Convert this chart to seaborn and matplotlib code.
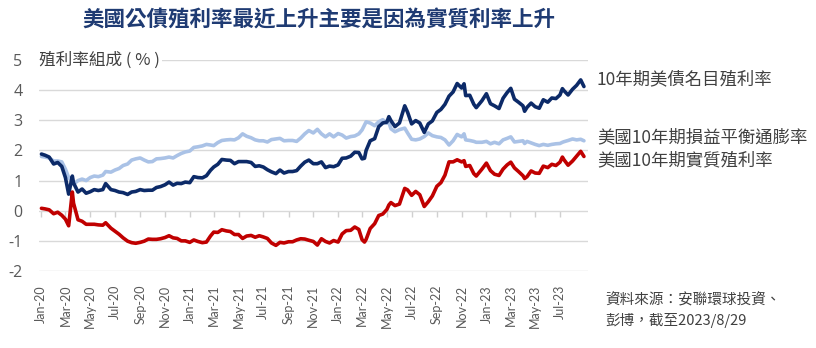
import pandas as pd
import numpy as np
import matplotlib
matplotlib.use("Agg")
import matplotlib.pyplot as plt
import matplotlib.dates as mdates
import seaborn as sns

# 10-year US Treasury yield decomposition, %
dates = [
    "2020-01-02", "2020-01-11", "2020-01-21", "2020-02-01", "2020-02-11", "2020-02-21",
    "2020-03-01", "2020-03-09", "2020-03-18", "2020-03-21", "2020-04-01", "2020-04-11",
    "2020-04-21", "2020-05-01", "2020-05-11", "2020-05-21", "2020-06-01", "2020-06-08",
    "2020-06-21", "2020-07-01", "2020-07-11", "2020-07-21", "2020-08-01", "2020-08-11",
    "2020-08-21", "2020-09-01", "2020-09-11", "2020-09-21", "2020-10-01", "2020-10-11",
    "2020-10-21", "2020-11-01", "2020-11-11", "2020-11-21", "2020-12-01", "2020-12-11",
    "2020-12-21",
    "2021-01-01", "2021-01-11", "2021-01-21", "2021-02-01", "2021-02-11", "2021-02-21",
    "2021-03-01", "2021-03-11", "2021-03-21", "2021-04-01", "2021-04-11", "2021-04-21",
    "2021-05-01", "2021-05-11", "2021-05-21", "2021-06-01", "2021-06-11", "2021-06-21",
    "2021-07-01", "2021-07-11", "2021-07-21", "2021-08-01", "2021-08-11", "2021-08-21",
    "2021-09-01", "2021-09-11", "2021-09-21", "2021-10-01", "2021-10-11", "2021-10-21",
    "2021-11-01", "2021-11-11", "2021-11-21", "2021-12-01", "2021-12-11", "2021-12-21",
    "2022-01-01", "2022-01-11", "2022-01-21", "2022-02-01", "2022-02-11", "2022-02-21",
    "2022-03-01", "2022-03-07", "2022-03-11", "2022-03-21", "2022-04-01", "2022-04-11",
    "2022-04-21", "2022-05-01", "2022-05-06", "2022-05-11", "2022-05-21", "2022-06-01",
    "2022-06-14", "2022-06-21", "2022-07-01", "2022-07-11", "2022-07-21", "2022-08-01",
    "2022-08-11", "2022-08-21", "2022-09-01", "2022-09-11", "2022-09-21", "2022-10-01",
    "2022-10-11", "2022-10-21", "2022-11-01", "2022-11-07", "2022-11-11", "2022-11-21",
    "2022-12-01", "2022-12-07", "2022-12-21",
    "2023-01-01", "2023-01-11", "2023-01-21", "2023-02-01", "2023-02-11", "2023-02-21",
    "2023-03-02", "2023-03-11", "2023-03-21", "2023-04-01", "2023-04-05", "2023-04-11",
    "2023-04-21", "2023-05-01", "2023-05-11", "2023-05-21", "2023-06-01", "2023-06-11",
    "2023-06-21", "2023-07-01", "2023-07-07", "2023-07-11", "2023-07-21", "2023-08-01",
    "2023-08-11", "2023-08-21", "2023-08-29",
]

nominal = [
    1.88, 1.84, 1.78, 1.55, 1.60, 1.47,
    1.10, 0.55, 1.15, 0.92, 0.62, 0.72,
    0.58, 0.63, 0.70, 0.67, 0.70, 0.90,
    0.70, 0.67, 0.62, 0.60, 0.54, 0.62,
    0.64, 0.70, 0.67, 0.68, 0.68, 0.77,
    0.80, 0.86, 0.95, 0.85, 0.91, 0.90,
    0.95,
    0.93, 1.13, 1.10, 1.09, 1.16, 1.34,
    1.45, 1.54, 1.70, 1.68, 1.67, 1.56,
    1.63, 1.63, 1.63, 1.60, 1.47, 1.49,
    1.45, 1.36, 1.29, 1.23, 1.35, 1.25,
    1.30, 1.30, 1.33, 1.48, 1.61, 1.68,
    1.56, 1.56, 1.62, 1.43, 1.48, 1.46,
    1.52, 1.74, 1.75, 1.81, 1.94, 1.93,
    1.72, 1.74, 2.00, 2.32, 2.39, 2.79,
    2.91, 2.94, 3.12, 2.99, 2.79, 2.91,
    3.48, 3.27, 2.88, 2.99, 2.91, 2.60,
    2.88, 2.98, 3.26, 3.36, 3.53, 3.80,
    3.94, 4.22, 4.07, 4.21, 3.82, 3.83,
    3.53, 3.42, 3.65,
    3.88, 3.55, 3.48, 3.39, 3.73, 3.92,
    4.06, 3.70, 3.60, 3.48, 3.30, 3.43,
    3.57, 3.45, 3.40, 3.68, 3.60, 3.74,
    3.72, 3.84, 4.05, 3.98, 3.84, 4.03,
    4.16, 4.34, 4.12,
]

breakeven = [
    1.80, 1.78, 1.75, 1.65, 1.65, 1.62,
    1.38, 1.10, 0.95, 0.88, 1.00, 1.05,
    1.00, 1.10, 1.15, 1.13, 1.18, 1.30,
    1.28, 1.35, 1.40, 1.50, 1.55, 1.68,
    1.72, 1.75, 1.68, 1.62, 1.63, 1.72,
    1.73, 1.75, 1.78, 1.75, 1.83, 1.90,
    1.95,
    1.98, 2.10, 2.12, 2.15, 2.20, 2.18,
    2.16, 2.26, 2.33, 2.35, 2.36, 2.35,
    2.42, 2.55, 2.47, 2.42, 2.35, 2.32,
    2.32, 2.28, 2.36, 2.38, 2.40, 2.32,
    2.33, 2.33, 2.30, 2.41, 2.55, 2.66,
    2.58, 2.70, 2.55, 2.45, 2.55, 2.45,
    2.56, 2.51, 2.41, 2.46, 2.48, 2.55,
    2.68, 2.84, 2.95, 2.91, 2.82, 2.95,
    3.02, 2.90, 2.93, 2.72, 2.62, 2.69,
    2.74, 2.58, 2.37, 2.35, 2.38, 2.46,
    2.58, 2.49, 2.45, 2.43, 2.35, 2.18,
    2.32, 2.53, 2.45, 2.55, 2.35, 2.33,
    2.30, 2.27, 2.27,
    2.30, 2.22, 2.27, 2.22, 2.35, 2.40,
    2.45, 2.28, 2.30, 2.32, 2.23, 2.30,
    2.25, 2.20, 2.16, 2.20, 2.17, 2.20,
    2.22, 2.23, 2.27, 2.29, 2.33, 2.38,
    2.35, 2.37, 2.32,
]

real = [
    0.08, 0.06, 0.03, -0.10, -0.05, -0.15,
    -0.28, -0.50, 0.62, 0.25, -0.30, -0.35,
    -0.45, -0.45, -0.45, -0.47, -0.48, -0.40,
    -0.58, -0.68, -0.78, -0.90, -1.01, -1.06,
    -1.08, -1.05, -1.01, -0.94, -0.95, -0.95,
    -0.93, -0.89, -0.83, -0.90, -0.92, -1.00,
    -1.00,
    -1.05, -0.97, -1.02, -1.06, -1.04, -0.84,
    -0.71, -0.72, -0.63, -0.67, -0.69, -0.79,
    -0.79, -0.92, -0.84, -0.82, -0.88, -0.83,
    -0.87, -0.92, -1.07, -1.15, -1.05, -1.07,
    -1.03, -1.03, -0.97, -0.93, -0.94, -0.98,
    -1.02, -1.14, -0.93, -1.02, -1.07, -0.99,
    -1.04, -0.77, -0.66, -0.65, -0.54, -0.62,
    -0.96, -1.04, -0.95, -0.59, -0.43, -0.16,
    -0.11, 0.04, 0.19, 0.27, 0.17, 0.22,
    0.74, 0.69, 0.51, 0.64, 0.53, 0.14,
    0.30, 0.49, 0.81, 0.93, 1.18, 1.62,
    1.62, 1.69, 1.62, 1.66, 1.47, 1.50,
    1.23, 1.15, 1.38,
    1.58, 1.33, 1.21, 1.17, 1.38, 1.52,
    1.61, 1.42, 1.30, 1.16, 1.07, 1.13,
    1.32, 1.25, 1.24, 1.48, 1.43, 1.54,
    1.50, 1.61, 1.78, 1.69, 1.51, 1.65,
    1.81, 1.97, 1.80,
]

series_names = ["10年期美債名目殖利率", "美國10年期損益平衡通膨率", "美國10年期實質殖利率"]
series_colors = ["#0c2a68", "#aac2e6", "#c00000"]

# bi-monthly axis labels, Jan-20 through Jul-23
tick_dates = pd.date_range("2020-01-01", "2023-07-01", freq="2MS")

title_text = "美國公債殖利率最近上升主要是因為實質利率上升"
ylabel_text = "殖利率組成 ( % )"
source_lines = ["資料來源：安聯環球投資、", "彭博，截至2023/8/29"]

# ---- long-form table for seaborn ----
d = pd.to_datetime(dates)
df = pd.concat([
    pd.DataFrame({"date": d, "value": nominal, "series": series_names[0]}),
    pd.DataFrame({"date": d, "value": breakeven, "series": series_names[1]}),
    pd.DataFrame({"date": d, "value": real, "series": series_names[2]}),
], ignore_index=True)

sns.set_theme(style="white")
cjk = ["Noto Sans CJK TC", "DejaVu Sans"]
plt.rcParams["font.family"] = cjk
plt.rcParams["axes.unicode_minus"] = False

fig = plt.figure(figsize=(8.16, 3.48), dpi=100)
ax = fig.add_axes([39 / 816, 77 / 348, (588 - 39) / 816, (288 - 77) / 348])

# breakeven underneath, then nominal, then real on top
draw_order = [series_names[1], series_names[0], series_names[2]]
palette = dict(zip(series_names, series_colors))
for name in draw_order:
    sns.lineplot(data=df[df["series"] == name], x="date", y="value",
                 color=palette[name], linewidth=2.6, ax=ax, legend=False)

ax.set_ylim(-2, 5)
ax.set_xlim(pd.Timestamp("2019-12-27"), pd.Timestamp("2023-09-08"))
ax.set_yticks(range(-2, 6))
ax.yaxis.grid(True, color="#d9d9d9", linewidth=1)
ax.xaxis.grid(False)
for s in ax.spines.values():
    s.set_visible(False)
ax.set_xlabel("")
ax.set_ylabel("")

# y tick labels
ax.tick_params(axis="y", length=0, pad=12, labelsize=11.5, labelcolor="#595959")
for lab in ax.get_yticklabels():
    lab.set_family(["Open Sans", "DejaVu Sans"])

# date labels along the bottom
ax.set_xticks(tick_dates)
ax.xaxis.set_major_formatter(mdates.DateFormatter("%b-%y"))
ax.tick_params(axis="x", length=0, pad=10, labelsize=9, labelcolor="#595959",
               rotation=90)
for lab in ax.get_xticklabels():
    lab.set_family(["Lato", "DejaVu Sans"])

# small tick marks on the zero line
zero_axis = ax.secondary_xaxis(2 / 7)
zero_axis.set_xticks(tick_dates)
zero_axis.tick_params(axis="x", length=4, width=1, color="#d0d0d0",
                      labelbottom=False, labeltop=False, direction="out")
zero_axis.spines["bottom"].set_visible(False)
zero_axis.spines["top"].set_visible(False)

# unit label sitting on the top gridline
ax.text(0.0, 5, ylabel_text, transform=ax.get_yaxis_transform(), ha="left",
        va="center", fontsize=12, color="#404040",
        bbox=dict(facecolor="white", edgecolor="none", pad=1.5))

# title
fig.text(319 / 816, 1 - 20 / 348, title_text, ha="center", va="center",
         fontsize=15.5, fontweight="bold", color="#1f3b73")

# series labels on the right
label_y = [79, 137, 160]
for name, yy in zip(series_names, label_y):
    fig.text(597 / 816, 1 - yy / 348, name, ha="left", va="center",
             fontsize=12.5, color="#404040")

# source note
for i, line in enumerate(source_lines):
    fig.text(605 / 816, 1 - (300 + i * 21) / 348, line, ha="left", va="center",
             fontsize=10.5, color="#404040")

fig.savefig("out.png", dpi=100)
